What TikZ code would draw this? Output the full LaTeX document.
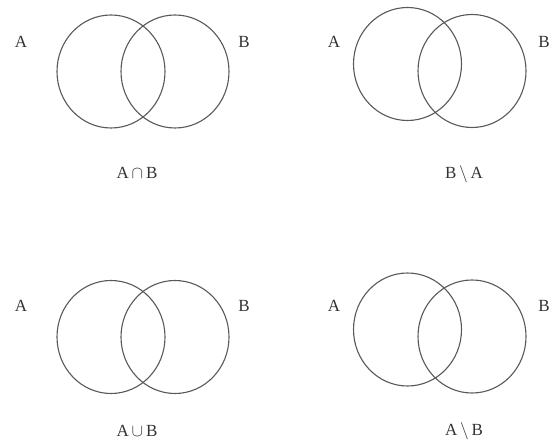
\documentclass[tikz,border=0pt]{standalone}
\usepackage{fontspec}
\setmainfont{Liberation Serif}
\usetikzlibrary{shapes.geometric}
\begin{document}
\begin{tikzpicture}[x=1pt,y=-1pt,
  setc/.style={ellipse, draw=black!65, line width=1.1pt, minimum width=108pt, minimum height=113pt, inner sep=0pt},
  lbl/.style={text=black!80, font=\fontsize{17}{20}\selectfont, inner sep=0pt},
  captxt/.style={text=black!80, font=\fontsize{17}{20}\selectfont, inner sep=0pt}]
\useasboundingbox (0,0) rectangle (553,443);
% top-left: intersection
\node[setc] (tlA) at (111,71.5) {};
\node[setc] (tlB) at (175,71.5) {};
\node[lbl] (tlLA) at (21,42) {A};
\node[lbl] (tlLB) at (244,42) {B};
\node[captxt] (tlC) at (137,173) {A\,$\cap$\,B};
% top-right: B minus A
\node[setc] (trA) at (407.5,64) {};
\node[setc] (trB) at (472,71) {};
\node[lbl] (trLA) at (334,42) {A};
\node[lbl] (trLB) at (544,42) {B};
\node[captxt] (trC) at (464,174) {B\,$\setminus$\,A};
% bottom-left: union
\node[setc] (blA) at (111,337) {};
\node[setc] (blB) at (175,337) {};
\node[lbl] (blLA) at (21,306) {A};
\node[lbl] (blLB) at (244,306) {B};
\node[captxt] (blC) at (137,431) {A\,$\cup$\,B};
% bottom-right: A minus B
\node[setc] (brA) at (407.5,329.5) {};
\node[setc] (brB) at (472,336.5) {};
\node[lbl] (brLA) at (334,306) {A};
\node[lbl] (brLB) at (544,306) {B};
\node[captxt] (brC) at (464,431) {A\,$\setminus$\,B};
\end{tikzpicture}
\end{document}
